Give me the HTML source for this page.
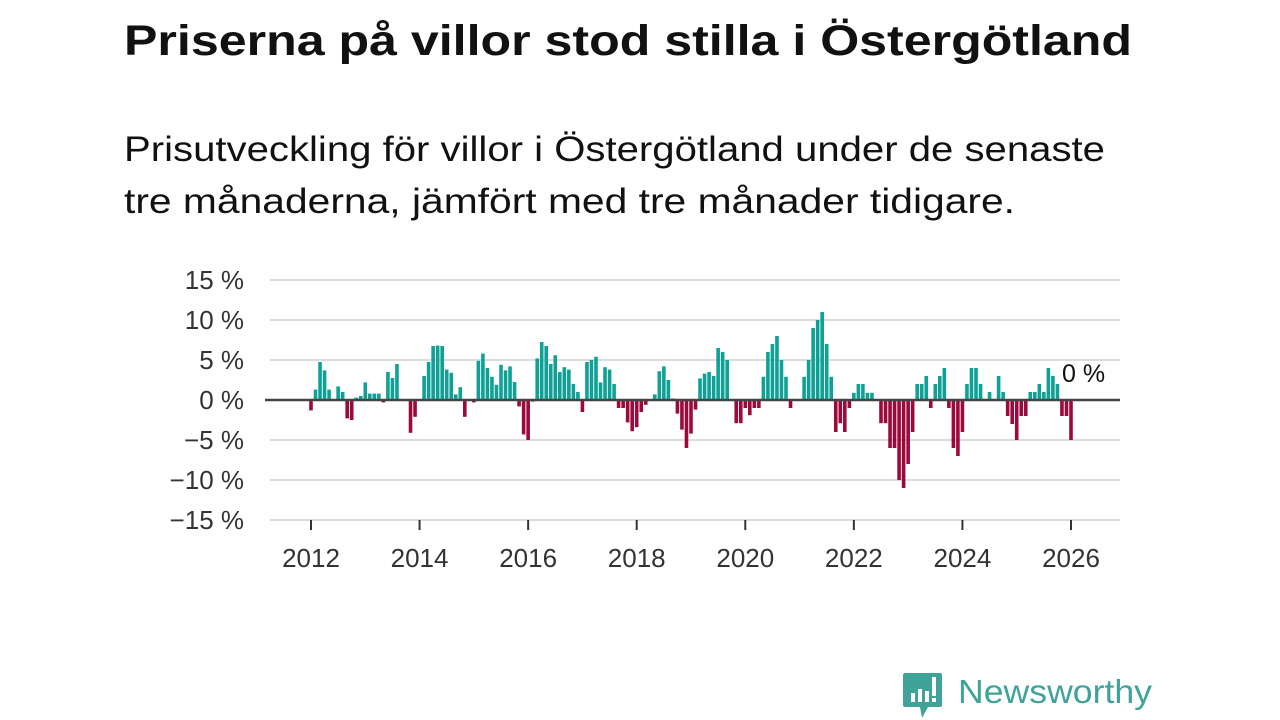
<!DOCTYPE html>
<html><head><meta charset="utf-8"><style>
html,body{margin:0;padding:0;background:#fff;width:1280px;height:720px;overflow:hidden}
svg{display:block;font-family:"Liberation Sans","DejaVu Sans",sans-serif}
</style></head><body>
<svg id="chart" width="1280" height="720" viewBox="0 0 1280 720">
<text x="124" y="55" font-size="43" font-weight="bold" fill="#111" textLength="1008" lengthAdjust="spacingAndGlyphs">Priserna på villor stod stilla i Östergötland</text>
<text x="124" y="161" font-size="35" fill="#111" textLength="981" lengthAdjust="spacingAndGlyphs">Prisutveckling för villor i Östergötland under de senaste</text>
<text x="124" y="213" font-size="35" fill="#111" textLength="891" lengthAdjust="spacingAndGlyphs">tre månaderna, jämfört med tre månader tidigare.</text>
<g id="grid"></g><g id="bars"></g><g id="axes"></g>
<g>
<path d="M905 673 h35 a2 2 0 0 1 2 2 v30 a2 2 0 0 1 -2 2 h-12 l-6 11 l-2 -11 h-15 a2 2 0 0 1 -2 -2 v-30 a2 2 0 0 1 2 -2z" fill="#3fa39a"/>
<rect x="911" y="693" width="4" height="9" fill="#fff"/><rect x="918" y="689" width="4" height="13" fill="#fff"/><rect x="925" y="691" width="4" height="11" fill="#fff"/><rect x="932" y="677" width="4" height="19" fill="#fff"/><rect x="932" y="698" width="4" height="4" fill="#fff"/>
<text x="958" y="703" font-size="33" fill="#3fa39a" textLength="194" lengthAdjust="spacingAndGlyphs">Newsworthy</text>
</g>
</svg>
<script>
const yTicks=[15,10,5,0,-5,-10,-15];
const yTickLabels=["15 %","10 %","5 %","0 %","−5 %","−10 %","−15 %"];
const xTickYears=[2012,2014,2016,2018,2020,2022,2024,2026];
const startYear=2012;
const values=[-1.3,1.3,4.75,3.7,1.3,0,1.7,1.0,-2.3,-2.5,0.3,0.5,
2.2,0.8,0.8,0.8,-0.3,3.5,2.75,4.5,0,0,-4.1,-2.1,
0,3.0,4.75,6.75,6.8,6.75,3.8,3.4,0.7,1.6,-2.1,0,
-0.3,4.9,5.8,4.0,2.9,1.9,4.4,3.7,4.2,2.25,-0.8,-4.3,
-5.0,-0.2,5.2,7.25,6.75,4.5,5.6,3.5,4.1,3.8,2.0,1.0,
-1.5,4.75,5.0,5.4,2.2,4.1,3.8,2.0,-1.0,-1.0,-2.8,-3.9,
-3.4,-1.5,-0.6,0,0.7,3.6,4.2,2.5,0.2,-1.7,-3.7,-6.0,
-4.2,-1.2,2.7,3.3,3.5,3.0,6.5,6.0,5.0,0,-2.9,-2.9,
-1.0,-1.9,-1.0,-1.0,2.9,6.0,7.0,8.0,5.0,2.9,-1.0,0,
0,2.9,5.0,9.0,10.0,11.0,7.0,2.9,-4.0,-2.9,-4.0,-1.0,
0.9,2.0,2.0,0.9,0.9,0,-2.9,-2.9,-6.0,-6.0,-10,-11,
-8,-4,2.0,2.0,3.0,-1.0,2.0,3.0,4.0,-1.0,-6.0,-7.0,
-4.0,2.0,4.0,4.0,2.0,0,1.0,0,3.0,1.0,-2.0,-3.0,
-5.0,-2.0,-2.0,1.0,1.0,2.0,1.0,4.0,3.0,2.0,-2.0,-2.0,
-5.0,0];
const lastLabel="0 %";
const NS="http://www.w3.org/2000/svg";
const x0=311, pxYear=(1071-311)/14;
const xScale=m=>x0+m*pxYear/12;
const yScale=v=>400-v*8;
function mk(tag,attrs,parent){const e=document.createElementNS(NS,tag);for(const k in attrs)e.setAttribute(k,attrs[k]);parent.appendChild(e);return e;}
const grid=document.getElementById('grid'),bars=document.getElementById('bars'),axes=document.getElementById('axes');
yTicks.forEach((t,i)=>{
 if(t!==0){const l=mk('line',{x1:270,x2:1120,y1:yScale(t),y2:yScale(t),stroke:'#dcdcdc','stroke-width':2},grid);
 
 }
 const tx=mk('text',{x:244,y:yScale(t)+9,'text-anchor':'end','font-size':26,fill:'#333'},axes);
 tx.textContent=yTickLabels[i];
 
 
});
values.forEach((v,m)=>{
 if(v===0)return;
 const x=xScale(m), y=yScale(Math.max(v,0)), h=Math.abs(v)*8;
 const r=mk('rect',{x:x-1.8,y:y,width:3.6,height:h,fill:v>0?'#0fa196':'#9c0a3d'},bars);
 
 
});
const z=mk('line',{x1:265,x2:1120,y1:400,y2:400,stroke:'#444','stroke-width':2.5},axes);


xTickYears.forEach(yr=>{
 const x=xScale((yr-startYear)*12);
 const t=mk('line',{x1:x,x2:x,y1:520,y2:530,stroke:'#333','stroke-width':2},axes);
 
 
 const tx=mk('text',{x:x,y:567,'text-anchor':'middle','font-size':26,fill:'#333'},axes);
 tx.textContent=yr;
 
 
});
const lx=xScale(values.length-1)+8;
const lab=mk('text',{x:lx,y:382,'text-anchor':'middle','font-size':25,fill:'#111',stroke:'#fff','stroke-width':5,'paint-order':'stroke'},axes);
lab.textContent=lastLabel;


</script>
</body></html>
